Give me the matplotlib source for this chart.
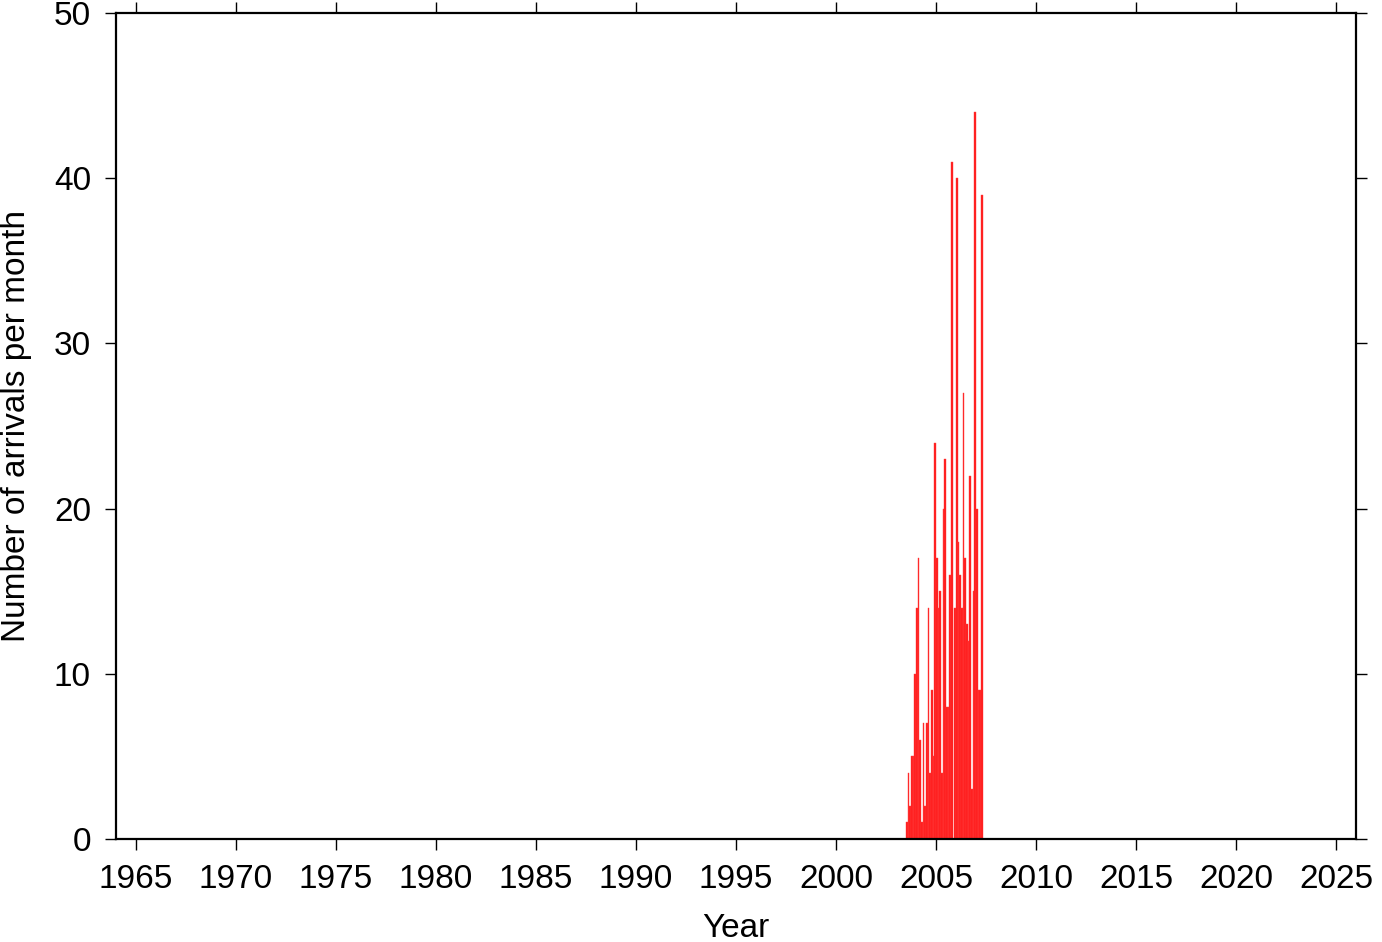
import matplotlib.pyplot as plt
import numpy as np

# monthly arrival counts, starting July 2003
start_year = 2003.5
counts = [1, 4, 2, 5, 5, 10, 14, 17, 6, 1, 7, 2, 7, 14, 4, 9, 5, 24, 17, 14,
          15, 4, 20, 23, 8, 8, 16, 41, 0, 14, 40, 18, 16, 14, 27, 17, 13, 12,
          22, 3, 15, 44, 20, 9, 9, 39]
year_ticks = list(range(1965, 2026, 5))
count_ticks = [0, 10, 20, 30, 40, 50]

plt.rcParams['font.family'] = ['Liberation Sans', 'DejaVu Sans']

fig = plt.figure(figsize=(13.82, 9.42), dpi=100)
ax = fig.add_axes([116 / 1382, 1 - 839 / 942, (1356 - 116) / 1382, (839 - 13) / 942])

months = start_year + np.arange(len(counts)) / 12.0
ax.bar(months, counts, width=1 / 12.0, align='edge', color='#ff1a1a',
       edgecolor='#ff4040', linewidth=0.3)

ax.set_xlim(1964.0, 2026.0)
ax.set_ylim(0, 50)
ax.set_xticks(year_ticks)
ax.set_yticks(count_ticks)

for s in ax.spines.values():
    s.set_linewidth(1.6)

ax.tick_params(axis='both', direction='out', length=8, width=1, labelsize=24,
               top=True, right=True, labeltop=False, labelright=False)
ax.tick_params(axis='x', pad=10)
ax.tick_params(axis='y', pad=10)

ax.set_xlabel('Year', fontsize=24, labelpad=13)
ax.set_ylabel('Number of arrivals per month', fontsize=24, labelpad=16)

fig.savefig('out.png', dpi=100)
